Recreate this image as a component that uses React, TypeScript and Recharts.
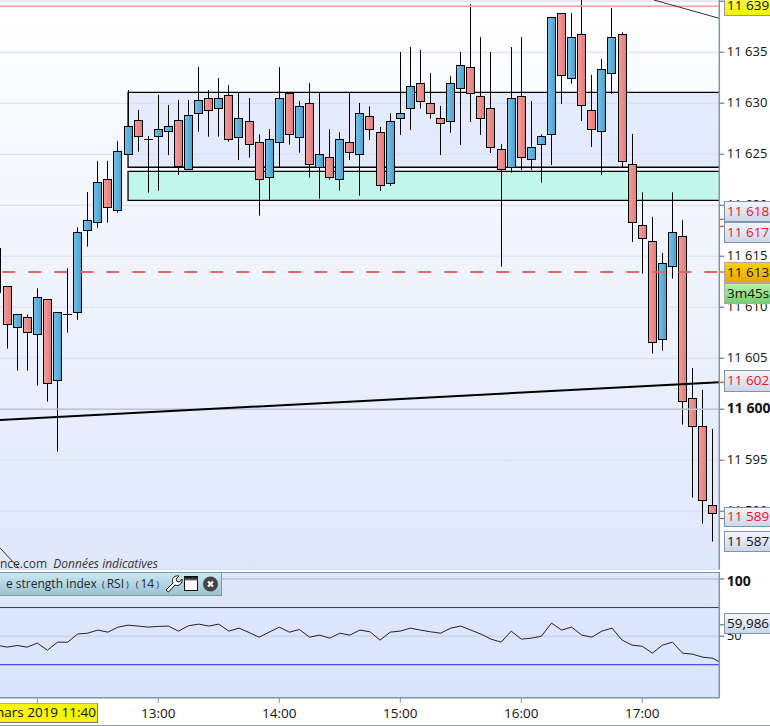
import { Bar, CartesianGrid, ComposedChart, Line, LineChart, ReferenceArea, ReferenceLine, XAxis, YAxis } from "recharts";

// minutes since midnight, one candle every 5 minutes
const times = [
  700, 705, 710, 715, 720, 725, 730, 735, 740, 745, 750, 755, 760, 765, 770, 775, 780, 785,
  790, 795, 800, 805, 810, 815, 820, 825, 830, 835, 840, 845, 850, 855, 860, 865, 870, 875,
  880, 885, 890, 895, 900, 905, 910, 915, 920, 925, 930, 935, 940, 945, 950, 955, 960, 965,
  970, 975, 980, 985, 990, 995, 1000, 1005, 1010, 1015, 1020, 1025, 1030, 1035, 1040, 1045, 1050, 1055,
];
const opens = [
  11611.54, 11612.09, 11608.04, 11609.02, 11607.35, 11610.78, 11602.84, 11609.31, 11609.51, 11617.55, 11618.33, 11622.55,
  11619.51, 11625, 11628.33, 11626.47, 11626.76, 11627.25, 11628.33, 11623.53, 11629.02, 11630.49, 11629.51, 11630.78,
  11626.67, 11628.24, 11626.18, 11622.75, 11626.18, 11630.98, 11626.67, 11630, 11623.73, 11624.71, 11622.55, 11626.18,
  11625, 11628.73, 11627.16, 11622.16, 11628.53, 11629.51, 11631.96, 11630, 11628.53, 11628.24, 11631.47, 11633.53,
  11630.69, 11629.51, 11625.49, 11623.73, 11630.69, 11624.51, 11625.98, 11626.96, 11638.82, 11632.45, 11636.76, 11629.31,
  11627.25, 11632.94, 11636.76, 11624.02, 11618.04, 11616.47, 11606.86, 11614.02, 11616.96, 11601.08, 11598.33, 11590.59,
];
const closes = [
  11615.78, 11608.33, 11609.31, 11607.55, 11610.98, 11602.55, 11609.51, 11609.31, 11617.35, 11618.53, 11622.25, 11619.8,
  11625.29, 11627.75, 11626.76, 11626.47, 11627.45, 11627.75, 11623.82, 11628.82, 11630.29, 11629.31, 11630.49, 11626.47,
  11628.53, 11625.98, 11622.55, 11626.47, 11630.49, 11626.96, 11629.71, 11624.02, 11625, 11622.75, 11626.47, 11625.2,
  11629.02, 11627.45, 11621.96, 11628.24, 11629.02, 11631.67, 11630.2, 11629.02, 11628.04, 11631.96, 11633.73, 11630.98,
  11628.53, 11625.69, 11623.53, 11630.49, 11624.71, 11625.69, 11626.76, 11638.43, 11632.75, 11636.47, 11629.8, 11627.45,
  11633.33, 11636.47, 11624.31, 11618.33, 11616.76, 11606.57, 11614.31, 11617.35, 11600.78, 11598.33, 11591.08, 11589.8,
];
const highs = [
  11615.78, 11612.09, 11609.31, 11609.31, 11611.86, 11610.78, 11609.51, 11613.82, 11617.84, 11621.31, 11624.35, 11624.35,
  11626.31, 11631.31, 11629.35, 11626.8, 11630.82, 11629.84, 11630.33, 11630.33, 11633.56, 11631.31, 11632.48, 11631.8,
  11631.01, 11630.52, 11626.96, 11627.48, 11633.56, 11630.98, 11630.23, 11631.99, 11631.01, 11627.45, 11627.16, 11631.01,
  11630.03, 11629.71, 11627.68, 11629.02, 11635.03, 11635.52, 11635.23, 11632.97, 11629.74, 11632.68, 11635.03, 11639.71,
  11636.5, 11635.03, 11626.01, 11635.52, 11636.5, 11630.23, 11626.96, 11638.43, 11638.82, 11638.86, 11640.5, 11632.78,
  11634.35, 11639.35, 11636.96, 11627, 11621.27, 11618.86, 11615.33, 11621.27, 11618.56, 11604.05, 11601.9, 11598.07,
];
const lows = [
  11611.54, 11605.95, 11603.79, 11603.79, 11602.32, 11600.75, 11595.85, 11607.52, 11608.76, 11615.95, 11617.81, 11618.3,
  11619.28, 11625, 11625.26, 11621.24, 11621.44, 11624.93, 11622.97, 11623.53, 11627.22, 11626.73, 11626.73, 11626.24,
  11624.44, 11624.67, 11618.99, 11620.49, 11623.73, 11625.95, 11625.16, 11622.71, 11620.65, 11622.52, 11621.44, 11624.44,
  11620.95, 11626.41, 11621.41, 11621.9, 11626.9, 11627.39, 11629.48, 11628.5, 11624.93, 11627.12, 11625.92, 11628.17,
  11626.9, 11625.13, 11613.99, 11623.2, 11623.46, 11623.46, 11622.22, 11623.95, 11629.93, 11631.93, 11628.27, 11625.72,
  11622.97, 11630.92, 11623.73, 11616.41, 11613.3, 11605.46, 11605.75, 11612.81, 11598.5, 11591.34, 11588.79, 11587.03,
];
const rsiTimes = [...times, 1060];
const rsiValues = [
  42.1, 40.4, 41.8, 40.4, 43.9, 37.7, 44.7, 44.7, 51.8, 52.6, 55.3, 53.5,
  57.9, 59.6, 58.8, 57.9, 58.5, 58.8, 54.4, 59.1, 60.5, 58.8, 60.5, 54.4,
  57, 53.2, 49.1, 53.5, 57.9, 53.5, 55.8, 49.1, 50.9, 48.2, 52.6, 50.9,
  55.3, 53.8, 46.5, 53.5, 54.4, 57, 55.3, 53.8, 52.6, 57, 58.8, 55.3,
  51.8, 47.4, 44.7, 54.4, 47.4, 48.2, 50, 61.4, 55.3, 57.9, 50.9, 49.1,
  54.4, 57, 46.5, 42.1, 41.2, 35.1, 42.1, 44.7, 35.1, 34.2, 31.6, 30.7, 25.7,
];
const priceTicks = [11590, 11595, 11600, 11605, 11610, 11615, 11620, 11625, 11630, 11635, 11640];
// prices marked in red on the axis, next to their tags
const redTicks = [11618.63, 11617.95, 11613.46, 11602.65, 11589.3];
const hourTicks = [720, 780, 840, 900, 960, 1020];
const rsiTicks = [50, 59.986, 100];

const candles = times.map((t, i) => ({
  t,
  open: opens[i],
  close: closes[i],
  high: highs[i],
  low: lows[i],
  range: [lows[i], highs[i]],
}));
const rsiData = rsiTimes.map((t, i) => ({ t, rsi: rsiValues[i] }));

const FONT = "'Open Sans', sans-serif";
const AXIS = "#7f96a3";
const RED = "#f5101a";
const X_DOMAIN: [number, number] = [701.5, 1058.2];

const Candle = (props: any) => {
  const { x, y, width, height, payload } = props;
  const { open, close, high, low } = payload;
  const cx = Math.floor(x + width / 2) + 0.5;
  const perUnit = height / (high - low);
  const top = Math.round(y + (high - Math.max(open, close)) * perUnit) + 0.5;
  const bottom = Math.round(y + (high - Math.min(open, close)) * perUnit) + 0.5;
  const up = close > open;
  return (
    <g>
      <line x1={cx} x2={cx} y1={y} y2={y + height} stroke="#000" strokeWidth={1} />
      {open === close ? (
        <line x1={cx - 4.5} x2={cx + 4.5} y1={top} y2={top} stroke="#000" strokeWidth={1} />
      ) : (
        <rect
          x={cx - 4}
          y={top}
          width={8}
          height={bottom - top}
          fill={up ? "url(#candleUp)" : "url(#candleDown)"}
          stroke="#000"
          strokeWidth={1}
        />
      )}
    </g>
  );
};

const PriceTick = (props: any) => {
  const { x, y, payload } = props;
  // 11 640 sits behind the yellow tag in the picture
  if (payload.value === 11640) return <g />;
  const s = String(payload.value);
  const bold = payload.value === 11600;
  return (
    <text x={x + 0.5} y={y - 1} dy="0.36em" fontFamily={FONT} fontSize={bold ? 14 : 13} fontWeight={bold ? 700 : 400} fill="#111">
      {s.slice(0, 2)} {s.slice(2)}
    </text>
  );
};

const RedMark = (props: any) => {
  const { viewBox } = props;
  const right = viewBox.x + viewBox.width;
  return <line x1={right} x2={right + 5} y1={viewBox.y} y2={viewBox.y} stroke={RED} strokeWidth={1} />;
};

const RsiTick = (props: any) => {
  const { x, y, payload } = props;
  if (payload.value === 59.986) return <g />;
  const top = payload.value === 100;
  return (
    <text x={x + 0.5} y={top ? y + 2 : y - 1} dy="0.36em" fontFamily={FONT} fontSize={top ? 14 : 13} fontWeight={top ? 700 : 400} fill="#111">
      {payload.value}
    </text>
  );
};

const HourTick = (props: any) => {
  const { x, y, payload } = props;
  // the 12:00 slot is taken by the yellow date tag
  if (payload.value === 720) return <g />;
  const h = Math.floor(payload.value / 60);
  return (
    <text x={x} y={y + 3} dy="0.71em" textAnchor="middle" fontFamily={FONT} fontSize={13.5} fill="#111">
      {h}:00
    </text>
  );
};

const Tag = ({ top, height, text, color = "#111", bg, border = AXIS }: any) => (
  <div
    style={{
      position: "absolute",
      left: 724,
      top,
      width: 50,
      height,
      boxSizing: "border-box",
      border: `1px solid ${border}`,
      background: bg ?? "linear-gradient(#f3f5fb, #ccd6ec)",
      color,
      font: `13.5px ${FONT}`,
      lineHeight: `${height - 3}px`,
      paddingLeft: 2,
      whiteSpace: "nowrap",
    }}
  >
    {text}
  </div>
);

const Paren = ({ c }: { c: string }) => <span style={{ fontSize: 9, margin: "0 2px" }}>{c}</span>;

const RsiLegend = () => (
  <div
    style={{
      position: "absolute",
      left: -2,
      top: 572,
      width: 224,
      height: 24,
      boxSizing: "border-box",
      border: `1px solid ${AXIS}`,
      background: "linear-gradient(#c9e8f3, #9dc2d2)",
      font: `12px ${FONT}`,
      lineHeight: "21px",
      paddingLeft: 7,
      color: "#1a2a33",
      whiteSpace: "nowrap",
    }}
  >
    e strength index <Paren c="(" />RSI<Paren c=")" /> <Paren c="(" />14<Paren c=")" />
    <svg width={58} height={20} style={{ position: "absolute", left: 165, top: 1 }}>
      <defs>
        <linearGradient id="winTop" x1="0" y1="0" x2="0" y2="1">
          <stop offset="0" stopColor="#000" />
          <stop offset="1" stopColor="#777" />
        </linearGradient>
      </defs>
      <path d="M2 16 L9 9 C7 4 11 1 15 2 L12 5 L13 7.5 L15.5 8 L18 5 C19 9 15 13 11 11 L4.5 18 Z" fill="#fff" stroke="#111" strokeWidth={1} />
      <rect x={20.5} y={2.5} width={13} height={14} fill="#fff" stroke="#111" strokeWidth={1} />
      <rect x={20.5} y={2.5} width={13} height={4} fill="url(#winTop)" />
      <circle cx={46.5} cy={10} r={7.5} fill="#444" />
      <path d="M44 7.5 L49 12.5 M49 7.5 L44 12.5" stroke="#fff" strokeWidth={2.2} />
    </svg>
  </div>
);

export default function App() {
  return (
    <div style={{ position: "absolute", left: 0, top: 0, width: 770, height: 726, overflow: "hidden", background: "#fff" }}>
      <div style={{ position: "absolute", left: 0, top: 0, width: 719, height: 570, background: "linear-gradient(#ffffff, #dfe7fb)", borderBottom: `1px solid ${AXIS}`, boxSizing: "border-box" }} />
      <div style={{ position: "absolute", left: 0, top: 572, width: 719, height: 126, background: "linear-gradient(#dfe7fe, #d9e4fc)", borderTop: `1px solid ${AXIS}`, borderBottom: `1px solid ${AXIS}`, boxSizing: "border-box" }} />
      <div style={{ position: "absolute", left: 0, top: 725, width: 770, height: 1, background: "#8aa0ab" }} />

      <div style={{ position: "absolute", left: 0, top: 0 }}>
        <ComposedChart width={770} height={569.5} data={candles} margin={{ top: 0, right: 0, bottom: 0, left: 0 }}>
          <defs>
            <linearGradient id="candleUp" x1="0" y1="0" x2="1" y2="0">
              <stop offset="0" stopColor="#70c2ea" />
              <stop offset="1" stopColor="#4f9fcc" />
            </linearGradient>
            <linearGradient id="candleDown" x1="0" y1="0" x2="1" y2="0">
              <stop offset="0" stopColor="#f59c9c" />
              <stop offset="1" stopColor="#df7c7c" />
            </linearGradient>
          </defs>
          <CartesianGrid horizontal vertical={false} stroke="#d9dde9" strokeWidth={1} />
          <XAxis dataKey="t" type="number" domain={X_DOMAIN} allowDataOverflow hide />
          <YAxis
            orientation="right"
            width={50.7}
            domain={[11584.29, 11640.13]}
            allowDataOverflow
            ticks={priceTicks}
            interval={0}
            tick={<PriceTick />}
            tickSize={5}
            stroke={AXIS}
            strokeWidth={1.5}
          />
          <ReferenceArea x1={765} x2={1064} y1={11623.73} y2={11631.08} ifOverflow="hidden" fill="#d0dcfb" fillOpacity={0.5} stroke="#000" strokeWidth={1.3} />
          <ReferenceArea x1={765} x2={1064} y1={11620.49} y2={11623.33} ifOverflow="hidden" fill="#c2f8ec" fillOpacity={1} stroke="#000" strokeWidth={1.3} />
          <ReferenceLine y={11600} stroke="#bcc2d4" strokeWidth={1.5} />
          <ReferenceLine y={11639.51} stroke="#ff9c9c" strokeWidth={1.5} />
          <Bar dataKey="range" barSize={8} shape={<Candle />} isAnimationActive={false} />
          <ReferenceLine y={11613.46} stroke="#e06666" strokeWidth={2} strokeDasharray="13 13" strokeDashoffset={24} />
          <ReferenceLine segment={[{ x: 701.5, y: 11598.95 }, { x: 1058.2, y: 11602.65 }]} ifOverflow="hidden" stroke="#000" strokeWidth={2} />
          <ReferenceLine segment={[{ x: 1025.8, y: 11640.13 }, { x: 1058.2, y: 11638.33 }]} ifOverflow="hidden" stroke="#333" strokeWidth={1} />
          <ReferenceLine segment={[{ x: 701.5, y: 11586.4 }, { x: 711, y: 11584.4 }]} ifOverflow="hidden" stroke="#333" strokeWidth={1} />
          {redTicks.map((v) => (
            <ReferenceLine key={v} y={v} strokeOpacity={0} label={<RedMark />} />
          ))}
        </ComposedChart>
      </div>

      <div style={{ position: "absolute", left: 0, top: 572 }}>
        <LineChart width={770} height={153} data={rsiData} margin={{ top: 0, right: 0, bottom: 0, left: 0 }}>
          <XAxis
            dataKey="t"
            type="number"
            domain={X_DOMAIN}
            allowDataOverflow
            ticks={hourTicks}
            interval={0}
            height={27}
            tick={<HourTick />}
            tickSize={5}
            stroke={AXIS}
          />
          <YAxis
            orientation="right"
            width={50.7}
            domain={[-4.1, 106.1]}
            allowDataOverflow
            ticks={rsiTicks}
            interval={0}
            tick={<RsiTick />}
            tickSize={5}
            stroke={AXIS}
            strokeWidth={1.5}
          />
          <ReferenceLine y={100} stroke="#a9b4c8" strokeWidth={1} />
          <ReferenceLine y={50} stroke="#c3cce0" strokeWidth={1} />
          <ReferenceLine y={75} stroke="#2626d4" strokeWidth={1} />
          <ReferenceLine y={25} stroke="#2626d4" strokeWidth={1} />
          <Line dataKey="rsi" type="linear" stroke="#222" strokeWidth={1} dot={false} isAnimationActive={false} />
        </LineChart>
      </div>

      <div style={{ position: "absolute", left: 0, top: 555, width: 170, font: `italic 12px ${FONT}`, color: "#333", whiteSpace: "nowrap" }}>
        <span style={{ fontStyle: "normal" }}>nce.com</span>&nbsp; Données indicatives
      </div>
      <RsiLegend />

      <div style={{ position: "absolute", left: -12, top: 703, width: 110, height: 20, boxSizing: "border-box", background: "#f6f600", borderRight: "1px solid #777", borderBottom: "1px solid #777", borderTop: "1px solid #aaa", font: `13.5px ${FONT}`, lineHeight: "17px", textAlign: "right", paddingRight: 1, color: "#111", whiteSpace: "nowrap", overflow: "hidden" }}>
        mars 2019 11:40
      </div>

      <Tag top={-5} height={21} text="11 639" bg="linear-gradient(#ffff60, #f0f000)" border="#999" />
      <Tag top={201} height={21} text="11 618" color={RED} />
      <Tag top={222} height={21} text="11 617" color={RED} />
      <Tag top={262} height={21} text="11 613" bg="linear-gradient(#ffd000, #e8a800)" border="#aaa" />
      <Tag top={283} height={21} text="3m45s" bg="linear-gradient(#b8f0a8, #70d070)" border="#aaa" />
      <Tag top={370} height={22} text="11 602" color={RED} />
      <Tag top={507} height={20} text="11 589" color={RED} />
      <Tag top={531} height={21} text="11 587" />
      <Tag top={613} height={21} text="59,986" />
    </div>
  );
}
